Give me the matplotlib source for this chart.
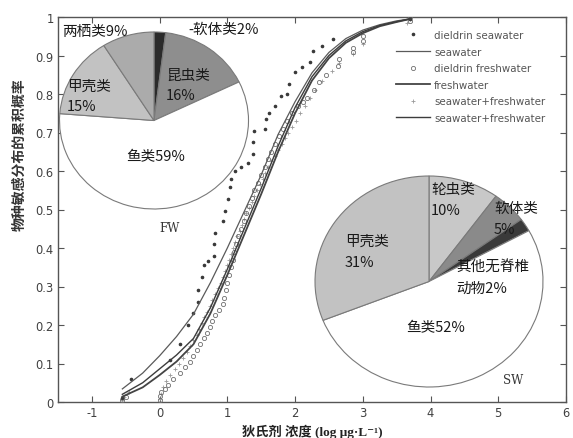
import matplotlib
matplotlib.use("Agg")
import matplotlib.pyplot as plt
from matplotlib.lines import Line2D

CJK = ['Noto Sans CJK SC', 'DejaVu Sans']

# ---------------- data ----------------
# fitted SSD curves (log conc vs cumulative probability)
fit_x = [-0.55, -0.25, 0.0, 0.25, 0.5, 0.75, 1.0, 1.25, 1.5, 1.75, 2.0, 2.25, 2.5, 2.75, 3.0, 3.25, 3.5, 3.7]
fit_sw = [0.034, 0.075, 0.12, 0.17, 0.228, 0.31, 0.40, 0.495, 0.59, 0.695, 0.78, 0.855, 0.908, 0.944, 0.966, 0.980, 0.990, 0.995]
fit_fw = [0.014, 0.038, 0.070, 0.105, 0.150, 0.230, 0.330, 0.435, 0.540, 0.650, 0.750, 0.835, 0.893, 0.933, 0.958, 0.976, 0.987, 0.995]
fit_all = [0.020, 0.050, 0.086, 0.122, 0.165, 0.245, 0.345, 0.450, 0.555, 0.665, 0.765, 0.845, 0.900, 0.938, 0.962, 0.978, 0.988, 0.995]

# dieldrin seawater observations (dots)
sw_x = [-0.55, -0.42, 0.15, 0.30, 0.42, 0.50, 0.56, 0.57, 0.63, 0.66, 0.72, 0.80, 0.80, 0.82, 0.94, 0.97, 1.01, 1.04,
        1.05, 1.12, 1.20, 1.30, 1.38, 1.38, 1.40, 1.55, 1.57, 1.62, 1.70, 1.79, 1.88, 1.91, 2.00, 2.10, 2.22, 2.27,
        2.40, 2.56, 3.70]
sw_y = [0.010, 0.060, 0.110, 0.150, 0.200, 0.230, 0.260, 0.290, 0.325, 0.355, 0.365, 0.380, 0.410, 0.440, 0.470,
        0.495, 0.527, 0.558, 0.580, 0.600, 0.610, 0.620, 0.645, 0.675, 0.705, 0.710, 0.735, 0.750, 0.770, 0.795,
        0.800, 0.826, 0.857, 0.870, 0.883, 0.912, 0.925, 0.943, 0.995]

# dieldrin freshwater observations (circles)
fw_x = [-0.55, -0.50, 0.00, 0.00, 0.02, 0.08, 0.12, 0.20, 0.30, 0.38, 0.45, 0.50, 0.55, 0.60, 0.65, 0.70, 0.74,
        0.78, 0.82, 0.88, 0.94, 0.95, 0.98, 1.00, 1.02, 1.05, 1.08, 1.10, 1.13, 1.16, 1.20, 1.24, 1.28, 1.32, 1.36,
        1.40, 1.45, 1.50, 1.55, 1.60, 1.65, 1.70, 1.76, 1.82, 1.88, 1.95, 2.05, 2.12, 2.17, 2.28, 2.35, 2.45, 2.63,
        2.65, 2.85, 2.85, 3.00, 3.00, 3.70, 3.70]
fw_y = [0.005, 0.012, 0.005, 0.015, 0.025, 0.035, 0.045, 0.060, 0.075, 0.090, 0.105, 0.120, 0.135, 0.150, 0.165,
        0.180, 0.195, 0.210, 0.225, 0.240, 0.255, 0.270, 0.290, 0.310, 0.330, 0.350, 0.370, 0.390, 0.410, 0.430,
        0.450, 0.470, 0.490, 0.510, 0.530, 0.550, 0.570, 0.590, 0.610, 0.630, 0.650, 0.670, 0.690, 0.710, 0.730,
        0.750, 0.770, 0.779, 0.790, 0.810, 0.830, 0.850, 0.873, 0.890, 0.909, 0.920, 0.938, 0.950, 0.990, 1.000]

# seawater+freshwater observations (plus)
all_x = [-0.55, -0.52, -0.45, 0.00, 0.02, 0.05, 0.10, 0.15, 0.22, 0.28, 0.35, 0.40, 0.45, 0.50, 0.55, 0.58, 0.62,
         0.66, 0.70, 0.74, 0.78, 0.82, 0.86, 0.90, 0.94, 0.97, 1.00, 1.03, 1.06, 1.09, 1.12, 1.15, 1.18, 1.21, 1.25,
         1.28, 1.32, 1.36, 1.40, 1.44, 1.48, 1.52, 1.56, 1.60, 1.65, 1.70, 1.75, 1.80, 1.85, 1.90, 1.96, 2.02, 2.08,
         2.15, 2.22, 2.30, 2.40, 2.55, 2.65, 2.85, 3.00, 3.65, 3.70]
all_y = [0.004, 0.012, 0.025, 0.008, 0.020, 0.040, 0.055, 0.070, 0.085, 0.100, 0.115, 0.130, 0.145, 0.160, 0.175,
         0.190, 0.205, 0.220, 0.235, 0.250, 0.265, 0.280, 0.295, 0.310, 0.325, 0.340, 0.355, 0.370, 0.385, 0.400,
         0.415, 0.430, 0.445, 0.460, 0.475, 0.490, 0.505, 0.520, 0.535, 0.550, 0.565, 0.580, 0.595, 0.610, 0.625,
         0.640, 0.655, 0.670, 0.685, 0.700, 0.715, 0.730, 0.750, 0.770, 0.790, 0.810, 0.835, 0.860, 0.880, 0.905,
         0.930, 0.985, 0.995]

# pie data
fw_labels = ['软体类', '昆虫类', '鱼类', '甲壳类', '两栖类']
fw_share = [2, 16, 59, 15, 9]
fw_colors = ['#2b2b2b', '#8e8e8e', '#ffffff', '#c2c2c2', '#ababab']

sw_labels = ['轮虫类', '软体类', '其他无脊椎动物', '鱼类', '甲壳类']
sw_share = [10, 5, 2, 52, 31]
sw_colors = ['#c8c8c8', '#8a8a8a', '#3a3a3a', '#ffffff', '#c2c2c2']

x_ticks = [-1, 0, 1, 2, 3, 4, 5, 6]
y_ticks = [0, 0.1, 0.2, 0.3, 0.4, 0.5, 0.6, 0.7, 0.8, 0.9, 1]

# ---------------- figure ----------------
W, H = 573, 439
fig = plt.figure(figsize=(W / 100, H / 100), dpi=100)
fig.patch.set_facecolor('white')

def fx(px):
    return px / W

def fy(py):
    return 1 - py / H

ax = fig.add_axes([fx(58), fy(403), fx(566) - fx(58), fy(18) - fy(403)])
ax.set_xlim(-1.5, 6)
ax.set_ylim(0, 1)
ax.set_xticks(x_ticks)
ax.set_xticklabels([str(v) for v in x_ticks])
ax.set_yticks(y_ticks)
ax.set_yticklabels(['0', '0.1', '0.2', '0.3', '0.4', '0.5', '0.6', '0.7', '0.8', '0.9', '1'])
ax.tick_params(direction='in', length=4, width=0.8, color='#555555', labelcolor='#404040',
               labelsize=8.3, top=True, right=True, pad=3)
for s in ax.spines.values():
    s.set_color('#555555')
    s.set_linewidth(1.0)

# scatter observations
ax.plot(all_x, all_y, linestyle='none', marker='+', markersize=3.2, mew=0.6, color='#9a9a9a', zorder=2)
ax.plot(fw_x, fw_y, linestyle='none', marker='o', markersize=3.0, mew=0.6, mfc='none', mec='#6e6e6e', zorder=3)
ax.plot(sw_x, sw_y, linestyle='none', marker='.', markersize=3.2, color='#3a3a3a', zorder=3)

# fitted curves
ax.plot(fit_x, fit_sw, color='#5a5a5a', lw=0.9, zorder=4)
ax.plot(fit_x, fit_fw, color='#444444', lw=1.3, zorder=4)
ax.plot(fit_x, fit_all, color='#3c3c3c', lw=1.0, zorder=4)

ax.set_xlabel('狄氏剂 浓度 (log μg·L⁻¹)', family=['Liberation Serif', 'Noto Sans CJK SC', 'DejaVu Sans'],
              fontsize=9.5, fontweight='bold', color='#222222', labelpad=3)
ax.set_ylabel('物种敏感分布的累积概率', family=CJK, fontsize=10, fontweight='bold', color='#333333')
ax.yaxis.set_label_coords(-0.062, 0.644)

# legend
handles = [
    Line2D([], [], linestyle='none', marker='.', markersize=3.2, color='#3a3a3a'),
    Line2D([], [], color='#5a5a5a', lw=0.9),
    Line2D([], [], linestyle='none', marker='o', markersize=3.0, mew=0.6, mfc='none', mec='#6e6e6e'),
    Line2D([], [], color='#444444', lw=1.3),
    Line2D([], [], linestyle='none', marker='+', markersize=3.2, mew=0.6, color='#9a9a9a'),
    Line2D([], [], color='#3c3c3c', lw=1.0),
]
labels = ['dieldrin seawater', 'seawater', 'dieldrin freshwater', 'freshwater',
          'seawater+freshwater', 'seawater+freshwater']
leg = ax.legend(handles, labels, loc='upper left', bbox_to_anchor=(fx(396), fy(31)),
                bbox_transform=fig.transFigure, frameon=False, fontsize=7.4, handlelength=3.3,
                handletextpad=0.4, labelspacing=0.64, borderpad=0, borderaxespad=0)
for t in leg.get_texts():
    t.set_color('#555555')

# ---------------- pies ----------------
def make_pie(box, shares, colors):
    pax = fig.add_axes(box)
    wedges, _ = pax.pie(shares, colors=colors, startangle=90, counterclock=False,
                        wedgeprops=dict(edgecolor='#7a7a7a', linewidth=0.8))
    pax.set_aspect('auto')
    pax.set_xlim(-1, 1)
    pax.set_ylim(-1, 1)
    pax.axis('off')
    for w in wedges:
        w.set_clip_on(False)
    return pax

make_pie([fx(59.5), fy(210), fx(248.5) - fx(59.5), fy(33) - fy(210)], fw_share, fw_colors)
make_pie([fx(315), fy(388), fx(543) - fx(315), fy(177) - fy(388)], sw_share, sw_colors)

def label(px, py, s, size=10.5, ha='left', va='center', **kw):
    fig.text(fx(px), fy(py), s, family=CJK, fontsize=size, ha=ha, va=va, color='#1a1a1a', **kw)

# FW labels
label(62, 32, '两栖类9%')
label(188, 30, '-软体类2%')
label(166, 76, '昆虫类')
label(166, 96, '16%')
label(67, 87, '甲壳类')
label(67, 107, '15%')
label(126, 157, '鱼类59%')
fig.text(fx(170), fy(228), 'FW', family='DejaVu Serif', fontsize=8.5, ha='center', va='center', color='#333333')

# SW labels
label(431, 190, '轮虫类')
label(431, 211, '10%')
label(494, 209, '软体类')
label(494, 230, '5%')
label(456, 268, '其他无脊椎')
label(456, 289, '动物2%')
label(345, 242, '甲壳类')
label(345, 263, '31%')
label(406, 328, '鱼类52%')
fig.text(fx(513), fy(381), 'SW', family='DejaVu Serif', fontsize=8.5, ha='center', va='center', color='#333333')

fig.savefig('out.png', dpi=100, facecolor='white')
